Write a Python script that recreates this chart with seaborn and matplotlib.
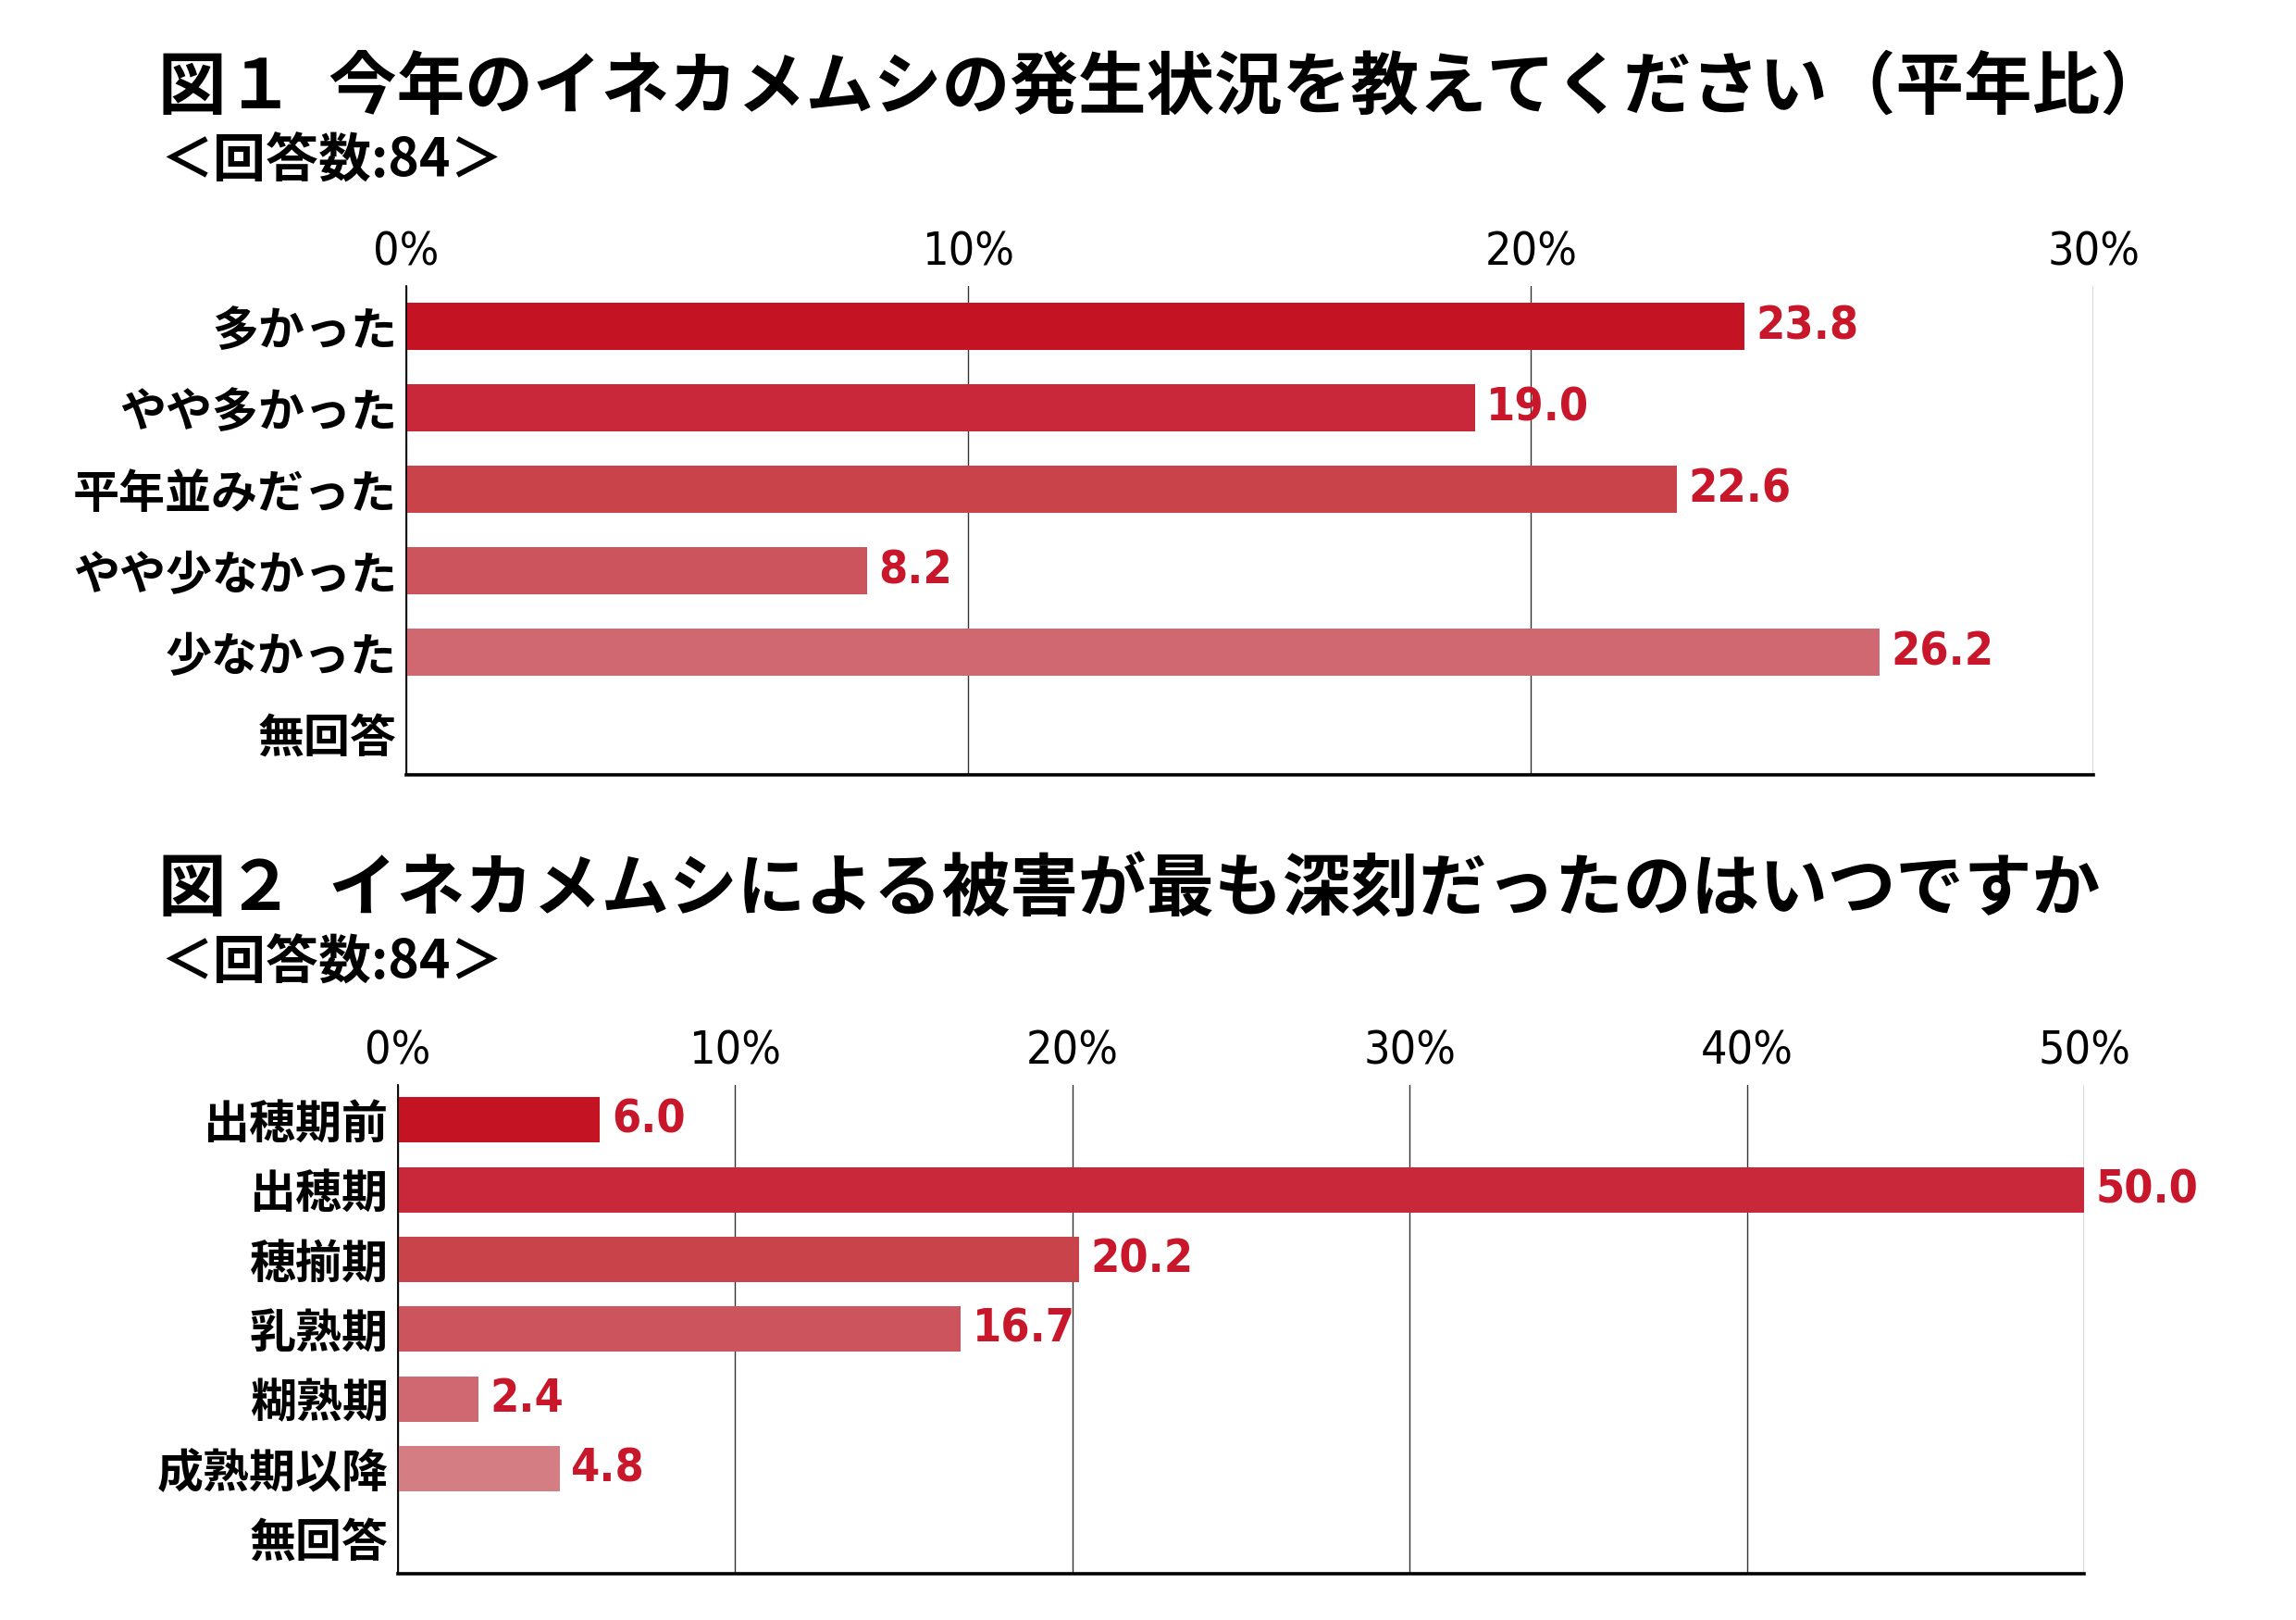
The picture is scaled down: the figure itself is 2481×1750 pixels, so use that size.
import matplotlib
matplotlib.use("Agg")
import matplotlib.pyplot as plt
from matplotlib import font_manager
import seaborn as sns

# 図1 data
q1_labels = ["多かった", "やや多かった", "平年並みだった", "やや少なかった", "少なかった", "無回答"]
q1_values = [23.8, 19.0, 22.6, 8.2, 26.2, 0.0]
q1_colors = ["#C41424", "#C82839", "#C9434A", "#CC555D", "#D06871", "#D47E84"]
q1_ticks = [0, 10, 20, 30]

# 図2 data
q2_labels = ["出穂期前", "出穂期", "穂揃期", "乳熟期", "糊熟期", "成熟期以降", "無回答"]
q2_values = [6.0, 50.0, 20.2, 16.7, 2.4, 4.8, 0.0]
q2_colors = ["#C41424", "#C82839", "#C9434A", "#CC555D", "#D06871", "#D47E84", "#D99196"]
q2_ticks = [0, 10, 20, 30, 40, 50]

title1 = "図１\u2002今年のイネカメムシの発生状況を教えてください（平年比）"
title2 = "図２\u2002イネカメムシによる被害が最も深刻だったのはいつですか"
subtitle = "＜回答数:84＞"

sns.set_theme(style="white")
plt.rcParams["font.family"] = ["Noto Sans CJK JP", "DejaVu Sans"]
for k in ["text.color", "axes.labelcolor", "xtick.color", "ytick.color"]:
    plt.rcParams[k] = "black"

# narrow face for the numbers if one is installed
_fonts = font_manager.fontManager.ttflist
_names = {f.name for f in _fonts}
num_stretch = "normal"
if "Liberation Sans Narrow" in _names:
    num_font = ["Liberation Sans Narrow"]
    tick_size, val_size = 42, 42
elif any(f.name == "DejaVu Sans" and f.stretch == "condensed" for f in _fonts):
    num_font = ["DejaVu Sans"]
    num_stretch = "condensed"
    tick_size, val_size = 36, 36
else:
    num_font = ["Liberation Sans", "DejaVu Sans"]
    tick_size, val_size = 37, 38
value_color = "#C8162A"


def draw(ax, labels, values, colors, ticks, bar_w):
    sns.barplot(x=values, y=labels, hue=labels, palette=colors, legend=False,
                orient="h", width=bar_w, saturation=1, linewidth=0, ax=ax)
    ax.set_xlim(0, ticks[-1])
    ax.xaxis.tick_top()
    ax.set_xticks(ticks)
    ax.set_xticklabels([f"{t}%" for t in ticks], family=num_font, fontsize=tick_size,
                       fontstretch=num_stretch)
    ax.tick_params(axis="x", length=0, pad=9)
    ax.tick_params(axis="y", length=0, pad=7)
    for t in ax.get_yticklabels():
        t.set_fontsize(36)
        t.set_fontweight("bold")
    ax.set_xlabel("")
    ax.set_ylabel("")
    ax.set_axisbelow(True)
    ax.grid(axis="x", color="#333333", linewidth=1.0)
    ax.grid(axis="y", visible=False)
    for s in ["top", "right"]:
        ax.spines[s].set_visible(False)
    ax.spines["left"].set_color("black")
    ax.spines["left"].set_linewidth(1.3)
    ax.spines["bottom"].set_color("black")
    ax.spines["bottom"].set_linewidth(2.6)
    for i, v in enumerate(values):
        if v > 0:
            ax.annotate(f"{v:.1f}", (v, i), xytext=(9, 0), textcoords="offset points",
                        ha="left", va="center", color=value_color, fontsize=val_size,
                        fontweight="bold", family=num_font, fontstretch=num_stretch,
                        annotation_clip=False)


fig = plt.figure(figsize=(24.81, 17.5), dpi=100)
ax1 = fig.add_axes([0.1768, 0.5220, 0.7350, 0.3015])
ax2 = fig.add_axes([0.1732, 0.0287, 0.7346, 0.3015])

draw(ax1, q1_labels, q1_values, q1_colors, q1_ticks, 0.58)
draw(ax2, q2_labels, q2_values, q2_colors, q2_ticks, 0.65)

fig.text(0.0690, 0.9455, title1, fontsize=53, fontweight="bold", va="center", ha="left")
fig.text(0.0700, 0.9004, subtitle, fontsize=41, fontweight="bold", va="center", ha="left")
fig.text(0.0690, 0.4506, title2, fontsize=53, fontweight="bold", va="center", ha="left")
fig.text(0.0700, 0.4054, subtitle, fontsize=41, fontweight="bold", va="center", ha="left")

fig.savefig("out.png", dpi=100, facecolor="white")
